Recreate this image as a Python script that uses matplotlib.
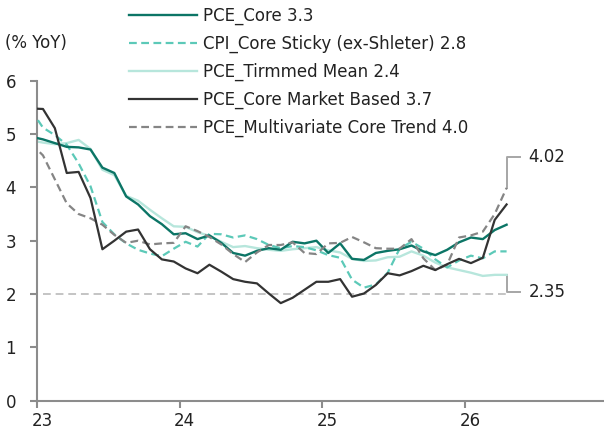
import matplotlib

matplotlib.use("Agg")

import matplotlib.pyplot as plt
import matplotlib.transforms as mtransforms
import numpy as np
import pandas as pd

plt.rcParams["font.family"] = ["DejaVu Sans"]

# monthly, Dec 2022 .. Apr 2026 (first point sits just left of the axis)
months = pd.period_range("2022-12", "2026-04", freq="M")

pce_core = [4.95, 4.90, 4.83, 4.76, 4.75, 4.71, 4.37, 4.27, 3.83, 3.68, 3.46, 3.31,
            3.12, 3.14, 3.03, 3.10, 2.96, 2.77, 2.72, 2.81, 2.86, 2.83, 2.98, 2.95,
            3.00, 2.77, 2.95, 2.66, 2.64, 2.77, 2.81, 2.84, 2.91, 2.80, 2.73, 2.83,
            2.97, 3.06, 3.03, 3.20, 3.30]
cpi_sticky = [5.45, 5.12, 4.98, 4.80, 4.45, 4.02, 3.35, 3.12, 2.95, 2.83, 2.76, 2.71,
              2.85, 2.98, 2.89, 3.13, 3.12, 3.06, 3.10, 3.03, 2.92, 2.86, 2.90, 2.88,
              2.82, 2.73, 2.68, 2.27, 2.12, 2.18, 2.40, 2.85, 2.98, 2.85, 2.65, 2.50,
              2.63, 2.72, 2.67, 2.80, 2.80]
pce_trimmed = [4.88, 4.84, 4.81, 4.83, 4.89, 4.72, 4.33, 4.23, 3.84, 3.75, 3.58, 3.42,
               3.27, 3.26, 3.16, 3.09, 2.98, 2.88, 2.90, 2.86, 2.83, 2.81, 2.84, 2.86,
               2.88, 2.82, 2.78, 2.66, 2.62, 2.63, 2.69, 2.70, 2.80, 2.72, 2.59, 2.50,
               2.45, 2.40, 2.34, 2.36, 2.36]
pce_market = [5.48, 5.47, 5.11, 4.27, 4.29, 3.80, 2.84, 3.00, 3.17, 3.21, 2.84, 2.65,
              2.61, 2.48, 2.39, 2.55, 2.42, 2.28, 2.23, 2.20, 2.01, 1.83, 1.93, 2.08,
              2.23, 2.23, 2.28, 1.95, 2.01, 2.17, 2.39, 2.35, 2.43, 2.53, 2.45, 2.56,
              2.66, 2.58, 2.68, 3.39, 3.68]
pce_multi = [4.82, 4.60, 4.15, 3.70, 3.50, 3.42, 3.30, 3.11, 2.96, 3.00, 2.93, 2.95,
             2.96, 3.27, 3.18, 3.07, 2.93, 2.75, 2.60, 2.78, 2.92, 2.92, 2.97, 2.77,
             2.75, 2.95, 2.96, 3.07, 2.97, 2.86, 2.85, 2.85, 3.03, 2.67, 2.45, 2.55,
             3.06, 3.10, 3.17, 3.50, 3.99]

labels = [
    "PCE_Core 3.3",
    "CPI_Core Sticky (ex-Shleter) 2.8",
    "PCE_Tirmmed Mean 2.4",
    "PCE_Core Market Based 3.7",
    "PCE_Multivariate Core Trend 4.0",
]
y_ticks = [0, 1, 2, 3, 4, 5, 6]
x_ticks = [23, 24, 25, 26]
target = 2.0
callout_hi = "4.02"
callout_lo = "2.35"

# year axis: 23 = Jan 2023, points at mid-month
x = np.array([(p.year - 2000) + (p.month - 0.5) / 12 for p in months])

fig = plt.figure(figsize=(6.04, 4.30), dpi=100)
ax = fig.add_axes([0.0613, 0.0681, 0.94, 0.7442])

text_color = "#222222"
axis_color = "#8c8c8c"
fs = 12

ax.plot(x[1:], np.full(len(x) - 1, target), color="#c4c4c4", lw=1.4,
        ls=(0, (4, 2.5)), zorder=1)

styles = [
    (pce_core, dict(color="#0c7566", lw=1.7, ls="-", zorder=4)),
    (cpi_sticky, dict(color="#5cc9b8", lw=1.6, ls=(0, (3.5, 2)), zorder=3)),
    (pce_trimmed, dict(color="#b7e6dc", lw=1.7, ls="-", zorder=2)),
    (pce_market, dict(color="#333333", lw=1.6, ls="-", zorder=6)),
    (pce_multi, dict(color="#858585", lw=1.6, ls=(0, (3.5, 2)), zorder=5)),
]
handles = []
for (values, style), label in zip(styles, labels):
    (line,) = ax.plot(x, values, label=label, **style)
    handles.append(line)

# callout brackets at the right end
x_end = x[-1]
x_arm = x_end + 0.095
bracket = dict(color="#a6a6a6", lw=1.4, clip_on=False, zorder=1)
ax.plot([x_end, x_end, x_arm], [pce_multi[-1], 4.57, 4.57], **bracket)
ax.plot([x_end, x_end, x_arm], [pce_trimmed[-1], 2.04, 2.04], **bracket)
ax.text(x_arm + 0.06, 4.57, callout_hi, ha="left", va="center", fontsize=fs,
        color=text_color)
ax.text(x_arm + 0.06, 2.04, callout_lo, ha="left", va="center", fontsize=fs,
        color=text_color)

ax.set_xlim(23, 26.98)
ax.set_ylim(0, 6)
ax.set_yticks(y_ticks)
ax.set_xticks(x_ticks)
ax.set_xticklabels([str(t) for t in x_ticks])

for spine in ["top", "right"]:
    ax.spines[spine].set_visible(False)
for spine in ["left", "bottom"]:
    ax.spines[spine].set_color(axis_color)
    ax.spines[spine].set_linewidth(1.5)
ax.tick_params(axis="both", colors=axis_color, width=1.5, length=5,
               labelcolor=text_color, labelsize=fs)
ax.tick_params(axis="y", pad=10)
ax.tick_params(axis="x", pad=3)

shift = mtransforms.ScaledTranslation(5 / 100, 0, fig.dpi_scale_trans)
for lab in ax.get_xticklabels():
    lab.set_transform(lab.get_transform() + shift)

fig.text(5 / 604, 1 - 43 / 430, "(% YoY)", ha="left", va="center",
         fontsize=fs, color=text_color)

leg = ax.legend(
    handles=handles,
    loc="upper left",
    bbox_to_anchor=(129 / 604, 1 - 7 / 430),
    bbox_transform=fig.transFigure,
    frameon=False,
    fontsize=fs,
    handlelength=4.1,
    handletextpad=0.36,
    labelspacing=0.58,
    borderpad=0,
    borderaxespad=0,
)
for t in leg.get_texts():
    t.set_color(text_color)

fig.savefig("out.png", dpi=100, facecolor="white")
